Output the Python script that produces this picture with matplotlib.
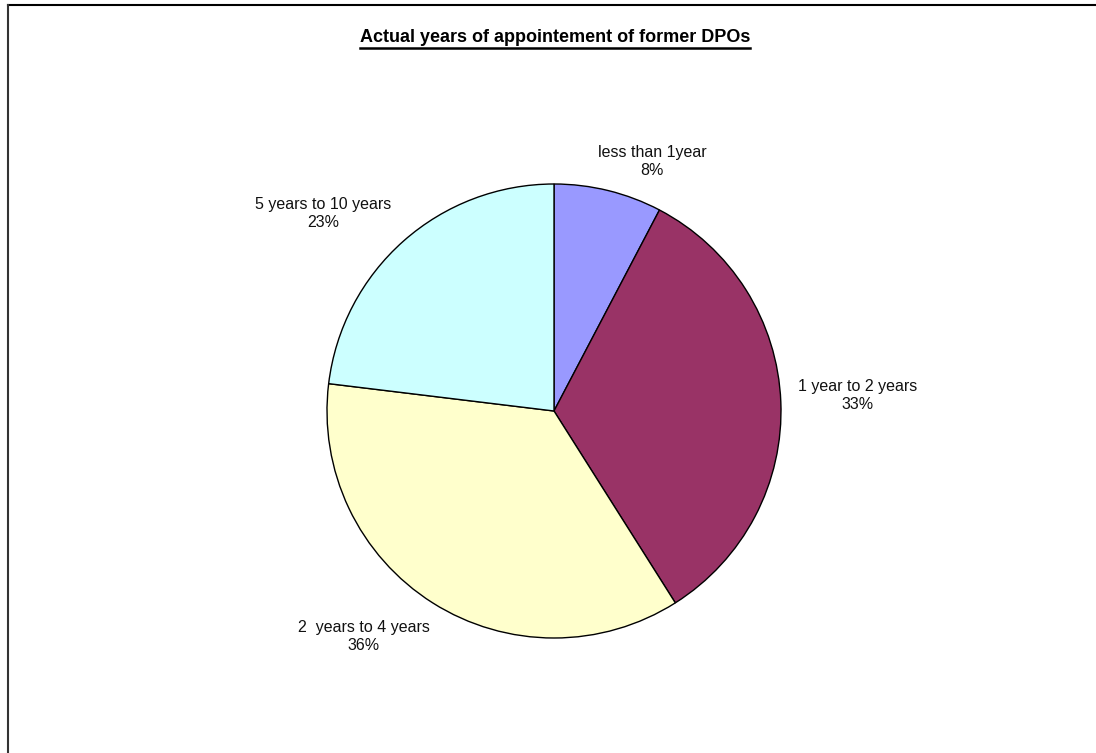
import numpy as np
import matplotlib
matplotlib.use('Agg')
import matplotlib.pyplot as plt
from matplotlib.lines import Line2D

plt.rcParams['font.family'] = ['Liberation Sans', 'DejaVu Sans']

labels = ['less than 1year', '1 year to 2 years', '2  years to 4 years', '5 years to 10 years']
counts = [3, 13, 14, 9]
colors = ['#9999FF', '#993366', '#FFFFCC', '#CCFFFF']
# label placement tweaks (degrees off mid-angle, radius)
lab_shift = [7.6, -0.7, 7.9, -7.9]
lab_rad = [1.18, 1.34, 1.30, 1.34]

W, H = 1096, 753
fig = plt.figure(figsize=(W / 100, H / 100), dpi=100)
cx, cy, r = 554, 411, 227
ax = fig.add_axes([(cx - r) / W, (H - cy - r) / H, 2 * r / W, 2 * r / H])

wedges, _ = ax.pie(counts, colors=colors, startangle=90, counterclock=False,
                   wedgeprops=dict(edgecolor='black', linewidth=1))
ax.set_xlim(-1, 1)
ax.set_ylim(-1, 1)
ax.set_aspect('equal')
ax.axis('off')

total = sum(counts)
cum = 0
for lab, c, sh, rr in zip(labels, counts, lab_shift, lab_rad):
    mid = (cum + c / 2) / total * 360 + sh   # clockwise from top
    cum += c
    a = np.deg2rad(mid)
    ax.text(rr * np.sin(a), rr * np.cos(a), f'{lab}\n{round(c / total * 100)}%',
            ha='center', va='center', fontsize=11.5, linespacing=1.25,
            color='#111111', clip_on=False)

t = fig.text(555 / W, 1 - 37 / H, 'Actual years of appointement of former DPOs',
             ha='center', va='center', fontsize=13, fontweight='bold')
fig.canvas.draw()
bb = t.get_window_extent()
fig.add_artist(Line2D([bb.x0 / W, bb.x1 / W], [(H - 48) / H] * 2, color='black',
                      linewidth=1.8, transform=fig.transFigure))

# chart area frame (top and left edges visible)
fig.add_artist(Line2D([8 / W, 1.0], [1 - 5 / H] * 2, color='black', linewidth=1.5,
                      transform=fig.transFigure))
fig.add_artist(Line2D([8 / W] * 2, [0, 1 - 5 / H], color='#333333', linewidth=1.5,
                      transform=fig.transFigure))

fig.savefig('out.png', dpi=100, facecolor='white')
